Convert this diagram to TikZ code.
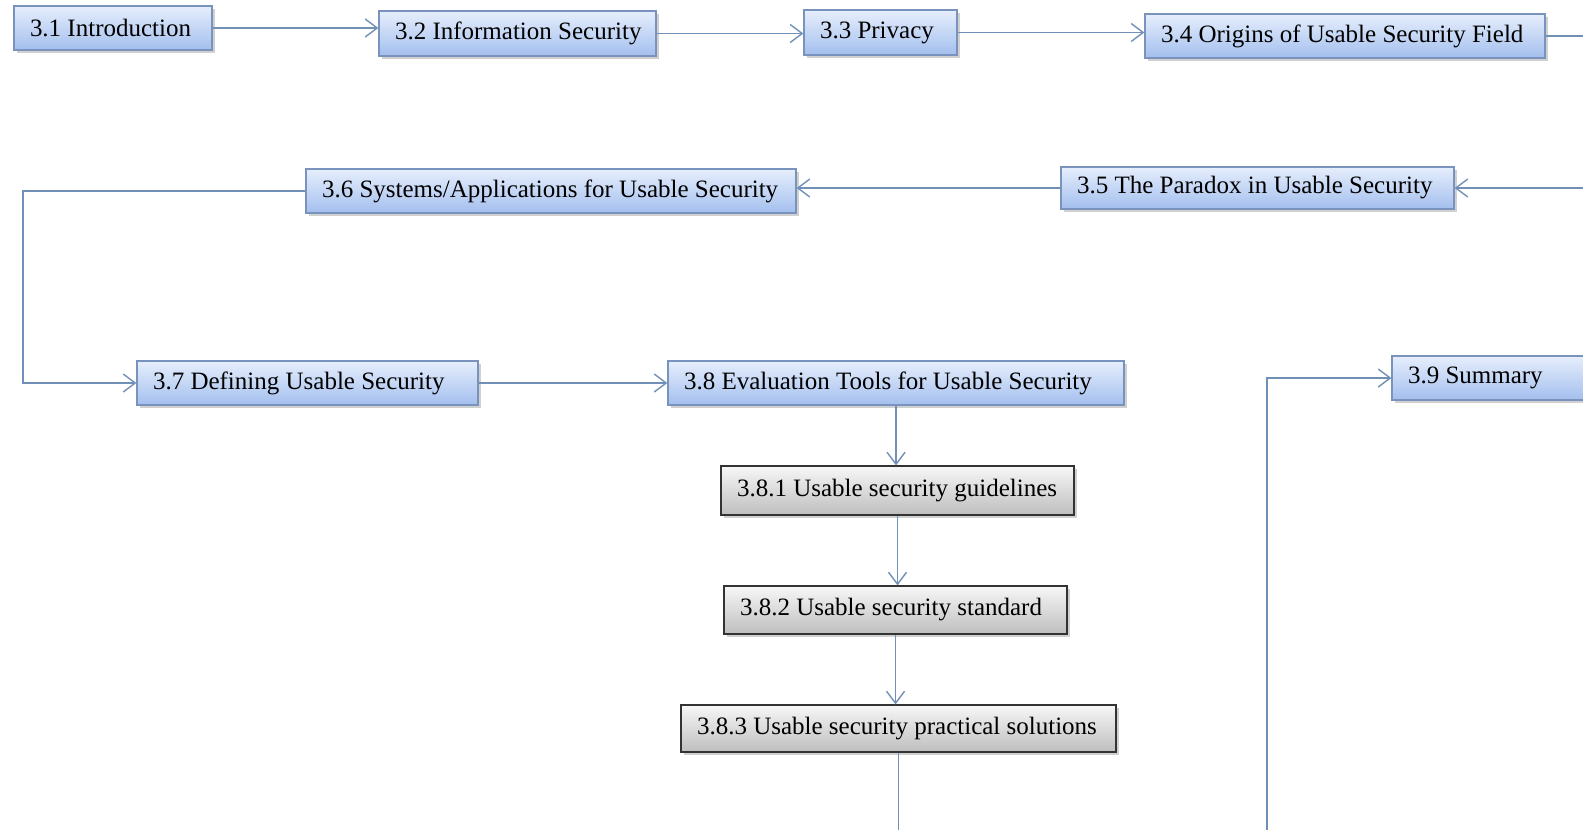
\documentclass[tikz,border=0pt]{standalone}
\usepackage{fontspec}
\setmainfont{Liberation Serif}
\usetikzlibrary{arrows.meta,shadows}

\definecolor{boxtop}{HTML}{E6EEFC}
\definecolor{boxbot}{HTML}{A3BFEE}
\definecolor{boxline}{HTML}{7A93BD}
\definecolor{greytop}{HTML}{F7F7F7}
\definecolor{greybot}{HTML}{BEBEBE}
\definecolor{flow}{HTML}{7190B8}

% fixed-width, left-aligned label inside a box
\newcommand{\boxtext}[2]{\makebox[\dimexpr#1pt-32pt\relax][l]{#2}}

\begin{document}
\begin{tikzpicture}[x=1pt,y=-1pt,
  font=\fontsize{25}{29}\selectfont,
  basebox/.style={rectangle, inner xsep=16pt, inner ysep=0pt,
    drop shadow={shadow xshift=2.5pt, shadow yshift=-2.5pt, opacity=0.3, fill=black!60}},
  bluebox/.style={basebox, draw=boxline, line width=1.2pt,
    top color=boxtop, bottom color=boxbot},
  greybox/.style={basebox, draw=black!80, line width=1.2pt,
    top color=greytop, bottom color=greybot},
  flowline/.style={draw=flow, line width=1.5pt,
    -{Straight Barb[length=12pt,width=18pt,line width=1.4pt]}}]

\useasboundingbox (0,0) rectangle (1583,830);
\clip (0,0) rectangle (1583,830);
\fill[white] (0,0) rectangle (1583,830);

% chapter sections
\node[bluebox, minimum height=44pt] (n31) at (113,28)   {\boxtext{198}{3.1 Introduction}};
\node[bluebox, minimum height=45pt] (n32) at (517.5,33.5) {\boxtext{277}{3.2 Information Security}};
\node[bluebox, minimum height=45pt] (n33) at (880.5,32.5) {\boxtext{153}{3.3 Privacy}};
\node[bluebox, minimum height=44pt] (n34) at (1345,36)  {\boxtext{400}{3.4 Origins of Usable Security Field}};
\node[bluebox, minimum height=42pt] (n35) at (1257.5,188) {\boxtext{393}{3.5 The Paradox in Usable Security}};
\node[bluebox, minimum height=44pt] (n36) at (551,191)  {\boxtext{490}{3.6 Systems/Applications for Usable Security}};
\node[bluebox, minimum height=44pt] (n37) at (307.5,383) {\boxtext{341}{3.7 Defining Usable Security}};
\node[bluebox, minimum height=44pt] (n38) at (896,383)  {\boxtext{456}{3.8 Evaluation Tools for Usable Security}};
\node[bluebox, minimum height=44pt] (n39) at (1507,378) {\boxtext{230}{3.9 Summary}};

% subsections of 3.8
\node[greybox, minimum height=49pt] (n381) at (897.5,490.5) {\boxtext{353}{3.8.1 Usable security guidelines}};
\node[greybox, minimum height=48pt] (n382) at (895.5,610)   {\boxtext{343}{3.8.2 Usable security standard}};
\node[greybox, minimum height=47pt] (n383) at (898.5,728.5) {\boxtext{435}{3.8.3 Usable security practical solutions}};

% turning points of the long connectors
\coordinate (loopR) at (1620,36);
\coordinate (loopL) at (23,191);
\coordinate (loopB) at (1267,860);

% connectors
\draw[flowline] (n31.east) -- (n31.east -| n32.west);
\draw[flowline] (n32.east) -- (n32.east -| n33.west);
\draw[flowline] (n33.east) -- (n33.east -| n34.west);
\draw[flowline] (n34.east) -- (loopR) |- (n35.east);
\draw[flowline] (n35.west) -- (n35.west -| n36.east);
\draw[flowline] (n36.west) -- (loopL) |- (n37.west);
\draw[flowline] (n37.east) -- (n37.east -| n38.west);
\draw[flowline] (n38.south) -- (n38.south |- n381.north);
\draw[flowline] (n381.south) -- (n381.south |- n382.north);
\draw[flowline] (n382.south) -- (n382.south |- n383.north);
\draw[flowline] (n383.south) |- (loopB) |- (n39.west);
\end{tikzpicture}
\end{document}
